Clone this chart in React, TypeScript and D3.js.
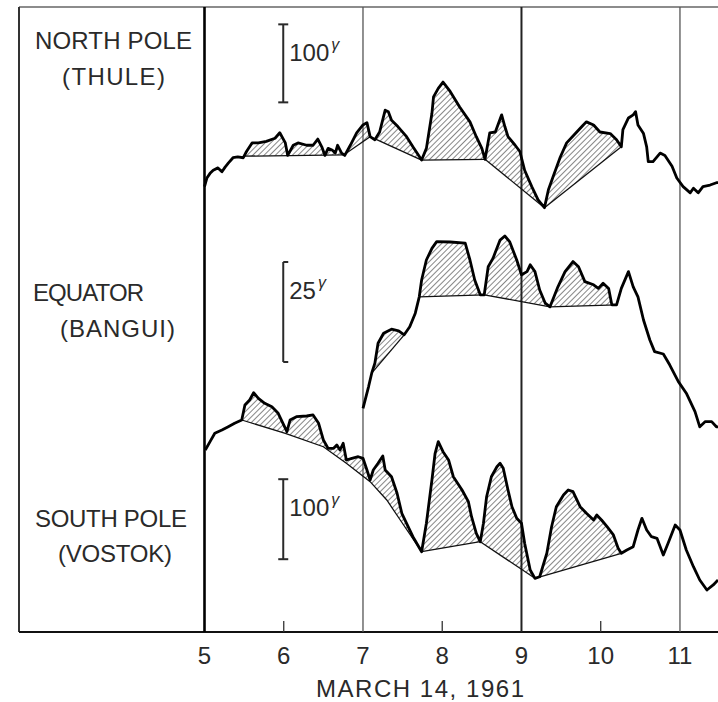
import * as d3 from 'd3';
import React from 'react';

// hours UT on March 14, 1961 vs. field (gamma, relative to an arbitrary base per station)
const northPole: [number, number][] = [
    [5.0, 30], [5.03, 41], [5.07, 47], [5.11, 51], [5.17, 54], [5.22, 49], [5.26, 55], [5.3, 60],
    [5.36, 67], [5.42, 68], [5.49, 67], [5.53, 75], [5.6, 86], [5.68, 86], [5.78, 88], [5.89, 92],
    [5.95, 99], [6.02, 86], [6.05, 70], [6.12, 83], [6.18, 86], [6.29, 83], [6.37, 83], [6.43, 91],
    [6.48, 81], [6.52, 70], [6.56, 79], [6.61, 77], [6.65, 73], [6.68, 83], [6.73, 73], [6.77, 70],
    [6.84, 83], [6.92, 99], [7.0, 109], [7.05, 112], [7.09, 94], [7.15, 90], [7.21, 100], [7.28, 128],
    [7.32, 126], [7.36, 115], [7.44, 107], [7.55, 94], [7.63, 81], [7.74, 64], [7.8, 79], [7.87, 124],
    [7.89, 145], [7.95, 156], [8.01, 164], [8.1, 152], [8.22, 132], [8.35, 113], [8.43, 94], [8.5, 79],
    [8.54, 65], [8.6, 99], [8.67, 100], [8.75, 122], [8.79, 107], [8.83, 94], [8.92, 83], [8.98, 75],
    [9.04, 51], [9.13, 30], [9.21, 13], [9.29, 3], [9.34, 26], [9.4, 43], [9.49, 68], [9.57, 86],
    [9.68, 98], [9.78, 109], [9.82, 113], [9.91, 109], [9.99, 100], [10.12, 98], [10.2, 90], [10.26, 81],
    [10.28, 103], [10.35, 118], [10.41, 122], [10.44, 126], [10.47, 109], [10.54, 98], [10.58, 81],
    [10.6, 62], [10.66, 62], [10.75, 73], [10.81, 70], [10.9, 56], [10.96, 41], [11.04, 30], [11.13, 22],
    [11.17, 28], [11.23, 22], [11.29, 30], [11.38, 32], [11.46, 35], [11.48, 35],
];

const equator: [number, number][] = [
    [7.0, 5.4], [7.07, 10.8], [7.11, 14.2], [7.15, 16.7], [7.19, 21.7], [7.26, 24.2], [7.36, 25.2],
    [7.45, 24.8], [7.52, 23.8], [7.59, 25.8], [7.66, 29.2], [7.71, 33.3], [7.74, 37.5], [7.8, 42.5],
    [7.87, 45.4], [7.93, 47.1], [8.1, 47], [8.29, 46.7], [8.35, 42.5], [8.41, 37.5], [8.48, 33.8],
    [8.53, 33.8], [8.58, 40.8], [8.64, 42.9], [8.73, 47.5], [8.79, 48.5], [8.85, 47.1], [8.94, 42.5],
    [9.0, 38.8], [9.07, 39.6], [9.11, 41.3], [9.17, 39.6], [9.23, 35], [9.3, 31.7], [9.36, 30.8],
    [9.46, 35.8], [9.55, 39.6], [9.65, 42.1], [9.72, 40.8], [9.8, 37.1], [9.91, 36.3], [9.97, 35.4],
    [10.03, 36.7], [10.1, 35.4], [10.14, 31.3], [10.2, 31.3], [10.26, 35.4], [10.35, 39.6], [10.41, 35.8],
    [10.47, 33.3], [10.54, 27.5], [10.62, 22.5], [10.68, 19.6], [10.79, 19], [10.87, 16.3], [10.98, 12.1],
    [11.08, 9.2], [11.19, 4.6], [11.25, 0.8], [11.32, 2.1], [11.4, 2.1], [11.46, 0.8], [11.48, 0.8],
];

const southPole: [number, number][] = [
    [5.01, 187.5], [5.07, 197.9], [5.13, 208.4], [5.22, 212.5], [5.3, 216.6], [5.38, 220.9], [5.47, 225],
    [5.51, 243.8], [5.57, 250], [5.62, 259.1], [5.68, 252.1], [5.76, 245.9], [5.85, 241.6], [5.93, 233.4],
    [5.99, 220.9], [6.04, 210.4], [6.08, 225], [6.16, 229.1], [6.29, 230], [6.37, 231.3], [6.44, 220.9],
    [6.5, 200], [6.56, 189.6], [6.63, 189.6], [6.67, 193.8], [6.71, 187.5], [6.75, 195.9], [6.79, 175],
    [6.86, 177.1], [6.94, 179.1], [7.0, 177.1], [7.05, 162.5], [7.09, 150], [7.13, 162.5], [7.19, 170.9],
    [7.25, 180], [7.28, 162.5], [7.36, 154.1], [7.43, 133.4], [7.49, 108.4], [7.55, 95.9], [7.63, 79.1],
    [7.74, 60.4], [7.8, 95.9], [7.87, 150], [7.91, 183.4], [7.95, 197.9], [8.01, 185.4], [8.08, 175],
    [8.14, 154.1], [8.25, 137.5], [8.33, 122.9], [8.37, 104.1], [8.43, 83.4], [8.48, 72.9], [8.52, 95.9],
    [8.56, 129.1], [8.62, 154.1], [8.69, 166.6], [8.73, 170.9], [8.77, 164.6], [8.83, 137.5], [8.88, 116.6],
    [8.94, 102.1], [9.0, 95.9], [9.04, 70.9], [9.11, 37.5], [9.17, 27.1], [9.23, 29.1], [9.32, 58.4],
    [9.38, 91.6], [9.44, 116.6], [9.53, 131.3], [9.59, 137.5], [9.65, 135.4], [9.74, 116.6], [9.82, 108.4],
    [9.91, 100], [9.95, 106.3], [10.01, 100], [10.08, 91.6], [10.16, 81.3], [10.22, 64.6], [10.26, 58.4],
    [10.33, 62.5], [10.41, 66.6], [10.47, 87.5], [10.52, 102.1], [10.58, 87.5], [10.64, 79.1], [10.71, 77.1],
    [10.79, 56.3], [10.85, 70.9], [10.94, 93.8], [11.0, 87.5], [11.08, 62.5], [11.17, 41.6], [11.25, 25],
    [11.34, 12.5], [11.42, 18.8], [11.48, 25],
];

// quiet-level trend drawn under the first Vostok bays
const southQuiet: [number, number][] = [
    [5.47, 225], [6.02, 208.4], [6.5, 191.6], [6.79, 170.9], [7.09, 147.9], [7.3, 125], [7.47, 100], [7.74, 60.4],
];

// hatched bays: [start hour, end hour], closed by a straight chord
const northBays: [number, number][] = [[5.5, 6.76], [6.76, 7.09], [7.09, 7.74], [7.74, 8.54], [8.54, 9.29], [9.29, 10.26]];
const equatorBays: [number, number][] = [[7.11, 7.52], [7.71, 8.53], [8.53, 9.36], [9.36, 10.2]];
const southBays: [number, number][] = [[7.74, 8.48], [8.48, 9.17], [9.17, 10.26]];

const hourTicks = [5, 6, 7, 8, 9, 10, 11];
const gridHours = [7, 9, 11];
const minorTicks = [6, 8, 10];

const W = 718;
const H = 702;
const FONT = '"Liberation Sans", Arial, sans-serif';
const INK = '#2a2a2a';

const x = d3.scaleLinear().domain([5, 11.48]).range([204.5, 718]);
const yNorth = d3.scaleLinear().domain([0, 100]).range([210, 132]);
const yEq = d3.scaleLinear().domain([0, 25]).range([430, 330]);
const ySouth = d3.scaleLinear().domain([0, 100]).range([600, 520]);

function valueAt(data: [number, number][], h: number): number {
    for (let i = 1; i < data.length; i++) {
        if (data[i][0] >= h) {
            const [h0, v0] = data[i - 1];
            const [h1, v1] = data[i];
            return v0 + ((v1 - v0) * (h - h0)) / (h1 - h0);
        }
    }
    return data[data.length - 1][1];
}

function bayPolygon(data: [number, number][], h0: number, h1: number, base?: [number, number][]) {
    const top: [number, number][] = [[h0, valueAt(data, h0)]];
    data.forEach((d) => {
        if (d[0] > h0 && d[0] < h1) top.push(d);
    });
    top.push([h1, valueAt(data, h1)]);
    const bottom: [number, number][] = base
        ? base.slice().reverse()
        : [[h1, valueAt(data, h1)], [h0, valueAt(data, h0)]];
    return { poly: top.concat(bottom), base: bottom };
}

type TraceProps = {
    data: [number, number][];
    bays: [number, number][];
    y: d3.ScaleLinear<number, number>;
    quiet?: [number, number][];
};

const Trace: React.FC<TraceProps> = ({ data, bays, y, quiet }) => {
    const line = d3.line<[number, number]>().x((d) => x(d[0])).y((d) => y(d[1]));
    const regions = bays.map(([a, b]) => bayPolygon(data, a, b));
    if (quiet) regions.push(bayPolygon(data, quiet[0][0], quiet[quiet.length - 1][0], quiet));
    return (
        <g>
            {regions.map((r, i) => (
                <path key={'f' + i} d={line(r.poly) + 'Z'} fill="url(#hatch)" stroke="none" />
            ))}
            {regions.map((r, i) => (
                <path key={'b' + i} d={line(r.base) || ''} fill="none" stroke="#111" strokeWidth={1.3} />
            ))}
            <path d={line(data) || ''} fill="none" stroke="#000" strokeWidth={2.8} strokeLinejoin="round" />
        </g>
    );
};

type BarProps = { y: d3.ScaleLinear<number, number>; from: number; span: number; label: string; right?: boolean };

const ScaleBar: React.FC<BarProps> = ({ y, from, span, label, right }) => {
    const bx = x(6) - 0.5;
    const y0 = y(from);
    const y1 = y(from + span);
    const sl = right ? 0 : 5;
    return (
        <g stroke={INK} strokeWidth={2}>
            <line x1={bx} x2={bx} y1={y0} y2={y1} />
            <line x1={bx - sl} x2={bx + 5} y1={y0} y2={y0} />
            <line x1={bx - sl} x2={bx + 5} y1={y1} y2={y1} />
            <text x={bx + 6} y={y1 + 37} fontSize={24} fontFamily={FONT} fill={INK} stroke="none">
                {label}
                <tspan dx={2} dy={-11} fontSize={16} fontStyle="italic">γ</tspan>
            </text>
        </g>
    );
};

const stations = [
    { name: 'NORTH POLE', nx: 35, ny: 49, nl: 157, site: '(THULE)', sx: 62, sy: 85, sl: 103 },
    { name: 'EQUATOR', nx: 33, ny: 301, nl: 111, site: '(BANGUI)', sx: 60, sy: 337, sl: 115 },
    { name: 'SOUTH POLE', nx: 35, ny: 527, nl: 152, site: '(VOSTOK)', sx: 58, sy: 562, sl: 114 },
];

export default function App() {
    const top = 7;
    const bottom = 632;
    return (
        <svg
            width={W}
            height={H}
            style={{ position: 'absolute', left: 0, top: 0, background: '#fff' }}
        >
            <defs>
                <pattern id="hatch" width={4} height={4} patternUnits="userSpaceOnUse" patternTransform="rotate(45)">
                    <line x1={0} y1={0} x2={0} y2={4} stroke="#222" strokeWidth={1.1} />
                </pattern>
            </defs>

            {/* frame */}
            <line x1={19} x2={W} y1={top} y2={top} stroke="#666" strokeWidth={1.5} />
            <line x1={19} x2={19} y1={top} y2={bottom} stroke="#333" strokeWidth={2} />
            <line x1={19} x2={W} y1={bottom} y2={bottom} stroke="#111" strokeWidth={2} />
            <line x1={x(5)} x2={x(5)} y1={top} y2={bottom} stroke="#000" strokeWidth={2.6} />
            {gridHours.map((h) => (
                <line
                    key={h}
                    x1={x(h)}
                    x2={x(h)}
                    y1={top}
                    y2={bottom}
                    stroke={h === 9 ? '#222' : '#555'}
                    strokeWidth={h === 9 ? 2 : 1.3}
                />
            ))}
            {minorTicks.map((h) => (
                <line key={h} x1={x(h)} x2={x(h)} y1={bottom - 11} y2={bottom} stroke="#333" strokeWidth={1.3} />
            ))}

            {/* station names */}
            {stations.map((s) => (
                <g key={s.name} fontFamily={FONT} fontSize={24} fill={INK}>
                    <text x={s.nx} y={s.ny} textLength={s.nl} lengthAdjust="spacing">{s.name}</text>
                    <text x={s.sx} y={s.sy} textLength={s.sl} lengthAdjust="spacing">{s.site}</text>
                </g>
            ))}

            <ScaleBar y={yNorth} from={138} span={100} label="100" />
            <ScaleBar y={yEq} from={17} span={25} label="25" right />
            <ScaleBar y={ySouth} from={51} span={100} label="100" />

            <Trace data={northPole} bays={northBays} y={yNorth} />
            <Trace data={equator} bays={equatorBays} y={yEq} />
            <Trace data={southPole} bays={southBays} y={ySouth} quiet={southQuiet} />

            {/* hour axis */}
            {hourTicks.map((h) => (
                <text key={h} x={x(h)} y={664} textAnchor="middle" fontFamily={FONT} fontSize={24} fill={INK}>
                    {h}
                </text>
            ))}
            <text x={420} y={697} textAnchor="middle" fontFamily={FONT} fontSize={24} fill={INK} textLength={208} lengthAdjust="spacing">
                MARCH 14, 1961
            </text>
        </svg>
    );
}
